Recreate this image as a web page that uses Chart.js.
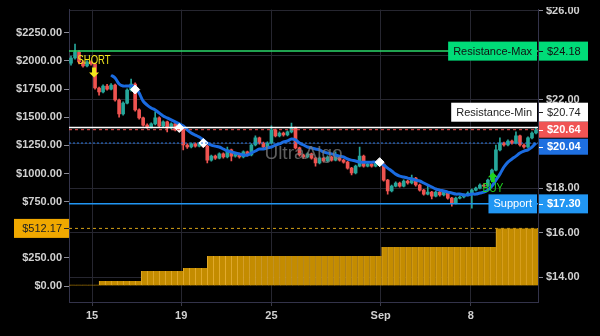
<!DOCTYPE html>
<html>
<head>
<meta charset="utf-8">
<script src="https://cdn.jsdelivr.net/npm/chart.js@4.4.1/dist/chart.umd.min.js"></script>
<style>
  html, body { margin: 0; padding: 0; background: #000; }
  #wrap { width: 600px; height: 336px; }
</style>
</head>
<body>
<div id="wrap"><canvas id="chart" width="600" height="336"></canvas></div>
<script>
/* ============================================================
   PRICE CHART - candles, trend line, levels, stepped volume
   ============================================================ */

// x axis ticks (candle index positions)
const xTickPos = [5.25, 27.5, 50, 77.25, 99.75];
const xTickLabels = ['15', '19', '25', 'Sep', '8'];
const rightTicks = [14, 16, 18, 20, 22, 24, 26];
const leftTicks = [0, 250, 500, 750, 1000, 1250, 1500, 1750, 2000, 2250];

// candles
const firstOpen = 23.64;
const closes = [
    23.87, 24.14, 23.69, 23.51, 23.69, 23.60, 22.52, 22.34, 22.61, 22.47,
    22.65, 21.98, 21.35, 21.84, 22.43, 22.70, 21.53, 21.17, 20.85, 20.76,
    20.90, 21.17, 20.81, 20.99, 20.72, 20.90, 20.63, 20.76, 19.95, 19.86,
    20.00, 19.90, 20.00, 19.90, 19.27, 19.45, 19.36, 19.55, 19.41, 19.73,
    19.45, 19.55, 19.41, 19.64, 19.50, 19.95, 20.27, 20.04, 19.86, 20.04,
    20.63, 20.36, 20.49, 20.40, 20.54, 20.72, 19.82, 19.50, 19.41, 19.55,
    19.36, 19.14, 19.36, 19.23, 19.41, 19.27, 19.45, 19.27, 19.18, 18.91,
    18.69, 19.00, 19.45, 19.00, 19.09, 19.00, 19.14, 19.09, 18.37, 17.88,
    18.10, 18.24, 18.10, 18.33, 18.24, 18.46, 18.15, 17.92, 17.74, 17.83,
    17.65, 17.83, 17.70, 17.83, 17.56, 17.34, 17.56, 17.61, 17.70, 17.79,
    17.92, 18.01, 18.15, 18.10, 18.37, 18.82, 19.73, 20.04, 19.95, 20.13,
    20.04, 20.36, 19.95, 19.86, 20.27, 20.49, 20.64
];
const highs = [
    23.96, 24.50, 24.20, 23.74, 23.75, 23.74, 23.64, 22.56, 22.66, 22.68,
    22.72, 22.70, 22.02, 21.90, 22.48, 22.92, 22.75, 21.58, 21.21, 20.90,
    20.95, 21.44, 21.22, 21.04, 21.03, 20.95, 20.94, 20.81, 20.80, 20.00,
    20.05, 20.05, 20.06, 20.04, 19.94, 19.50, 19.50, 19.60, 19.60, 19.86,
    19.77, 19.60, 19.59, 19.69, 19.68, 20.00, 20.36, 20.31, 20.08, 20.09,
    20.81, 20.67, 20.54, 20.53, 20.59, 20.94, 20.76, 19.86, 19.54, 19.60,
    19.59, 19.40, 19.41, 19.40, 19.46, 19.45, 19.64, 19.49, 19.31, 19.22,
    18.95, 19.05, 19.86, 19.50, 19.14, 19.13, 19.19, 19.18, 19.13, 18.41,
    18.15, 18.29, 18.28, 18.38, 18.37, 18.60, 18.50, 18.19, 17.96, 18.15,
    17.87, 17.88, 17.87, 17.88, 17.87, 17.60, 17.61, 17.66, 17.75, 17.84,
    17.97, 18.06, 18.20, 18.19, 18.42, 18.87, 19.95, 20.27, 20.08, 20.18,
    20.17, 20.54, 20.40, 19.99, 20.32, 20.54, 20.76
];
const lows = [
    23.55, 23.82, 23.60, 23.46, 23.47, 23.55, 22.47, 22.20, 22.30, 22.42,
    22.43, 21.93, 21.21, 21.30, 21.80, 22.38, 21.48, 21.12, 20.80, 20.70,
    20.72, 20.86, 20.76, 20.77, 20.54, 20.68, 20.58, 20.59, 19.73, 19.80,
    19.82, 19.85, 19.86, 19.85, 19.14, 19.22, 19.30, 19.32, 19.36, 19.37,
    19.23, 19.40, 19.36, 19.37, 19.45, 19.46, 19.91, 19.99, 19.80, 19.82,
    20.00, 20.31, 20.32, 20.35, 20.36, 20.50, 19.77, 19.45, 19.35, 19.37,
    19.31, 19.00, 19.10, 19.18, 19.19, 19.22, 19.23, 19.22, 19.13, 18.86,
    18.60, 18.65, 18.96, 18.95, 18.96, 18.95, 18.96, 19.04, 18.32, 17.74,
    17.84, 18.06, 18.05, 18.06, 18.19, 18.20, 18.10, 17.87, 17.69, 17.70,
    17.52, 17.61, 17.65, 17.66, 17.51, 17.20, 17.30, 17.52, 17.57, 17.66,
    17.11, 17.88, 17.97, 18.05, 18.06, 18.33, 18.78, 19.69, 19.90, 19.91,
    19.99, 20.00, 19.90, 19.81, 19.82, 20.23, 20.45
];

// trend line (starts at candle 10)
const maValues = [
    null, null, null, null, null, null, null, null, null, null,
    23.10, 22.97, 22.70, 22.61, 22.61, 22.61, 22.56, 22.29, 21.93, 21.75,
    21.62, 21.53, 21.39, 21.26, 21.17, 21.08, 20.99, 20.90, 20.81, 20.63,
    20.49, 20.40, 20.31, 20.18, 20.04, 19.95, 19.90, 19.86, 19.77, 19.68,
    19.64, 19.59, 19.55, 19.50, 19.50, 19.59, 19.68, 19.77, 19.77, 19.82,
    19.86, 19.95, 20.00, 20.09, 20.13, 20.22, 20.18, 20.04, 19.95, 19.86,
    19.82, 19.77, 19.73, 19.64, 19.59, 19.55, 19.50, 19.45, 19.41, 19.32,
    19.27, 19.23, 19.18, 19.18, 19.18, 19.18, 19.18, 19.14, 19.05, 18.91,
    18.78, 18.64, 18.55, 18.51, 18.46, 18.42, 18.37, 18.33, 18.24, 18.15,
    18.06, 17.97, 17.92, 17.88, 17.83, 17.79, 17.74, 17.74, 17.70, 17.70,
    17.74, 17.74, 17.79, 17.83, 17.92, 18.10, 18.37, 18.64, 18.96, 19.18,
    19.32, 19.45, 19.59, 19.68, 19.73, 19.86, 20.04
];

// white cross markers
const markerIdx = [16, 27, 33, 77];
const markerPrice = [22.45, 20.72, 20.04, 19.18];

// signals
const signalIdx = [5.75, 105.25];
const signalPrice = [22.99, 18.72];
const signalText = ['SHORT', 'BUY'];

// horizontal levels (right axis)
const levelNames = ['Resistance-Max', 'Resistance-Min', '', '', 'Support'];
const levelValues = [24.18, 20.74, 20.64, 20.04, 17.30];
const lastPrice = 20.64;

// stepped bars (left axis)
const stepValues = [
    12, 12, 12, 12, 12,
    45, 45, 45, 45, 45, 45, 45,
    133, 133, 133, 133, 133, 133, 133,
    160, 160, 160, 160,
    266, 266, 266, 266, 266, 266, 266, 266, 266, 266,
    266, 266, 266, 266, 266, 266, 266, 266, 266, 266,
    266, 266, 266, 266, 266, 266, 266, 266, 266,
    346, 346, 346, 346, 346, 346, 346, 346, 346, 346,
    346, 346, 346, 346, 346, 346, 346, 346, 346,
    512.17, 512.17, 512.17, 512.17, 512.17, 512.17, 512.17
];
const stepLabelValue = 512.17;

const UP = '#26a69a', DOWN = '#ef5350';
const FONT = '"Liberation Sans", Arial, sans-serif';

const opens = closes.map((c, i) => i ? closes[i - 1] : firstOpen);
const candleColors = closes.map((c, i) => c >= opens[i] ? UP : DOWN);

const levelStyles = [
    { line: '#2bd96b', dash: [], width: 1.5, bg: '#00dc78', fg: '#111' },
    { line: '#ffffff', dash: [], width: 1.5, bg: '#ffffff', fg: '#222' },
    { line: '#f05454', dash: [3, 3], width: 1, bg: '#f05454', fg: '#fff' },
    { line: '#2a7be4', dash: [2, 2], width: 1, bg: '#1e6fe0', fg: '#fff' },
    { line: '#2196f3', dash: [], width: 1.5, bg: '#2196f3', fg: '#fff' },
];

function drawArrow(ctx, x, tipY, dir, color) {
    // dir 1 = pointing down, -1 = pointing up
    ctx.fillStyle = color;
    ctx.beginPath();
    ctx.moveTo(x, tipY);
    ctx.lineTo(x - 5, tipY - dir * 5);
    ctx.lineTo(x - 2, tipY - dir * 5);
    ctx.lineTo(x - 2, tipY - dir * 10);
    ctx.lineTo(x + 2, tipY - dir * 10);
    ctx.lineTo(x + 2, tipY - dir * 5);
    ctx.lineTo(x + 5, tipY - dir * 5);
    ctx.closePath();
    ctx.fill();
}

function hLine(ctx, area, y, color, dash, width) {
    ctx.save();
    ctx.strokeStyle = color;
    ctx.lineWidth = width;
    ctx.setLineDash(dash);
    ctx.beginPath();
    ctx.moveTo(area.left, y);
    ctx.lineTo(area.right, y);
    ctx.stroke();
    ctx.restore();
}

const overlay = {
    id: 'overlay',
    beforeDatasetsDraw(chart) {
        hLine(chart.ctx, chart.chartArea, chart.scales.yl.getPixelForValue(stepLabelValue), '#d4a017', [3, 3], 1);
    },
    afterDatasetsDraw(chart) {
        const { ctx, chartArea: a, scales } = chart;
        // watermark over the candles
        ctx.save();
        ctx.font = '19px ' + FONT;
        ctx.fillStyle = 'rgba(125,125,125,0.75)';
        ctx.textAlign = 'center';
        ctx.textBaseline = 'middle';
        ctx.fillText('UltraAlgo', (a.left + a.right) / 2, (a.top + a.bottom) / 2 - 2);
        ctx.restore();
        levelValues.forEach((v, i) => {
            const s = levelStyles[i];
            hLine(ctx, a, scales.y.getPixelForValue(v), s.line, s.dash, s.width);
        });
        ctx.save();
        signalText.forEach((t, i) => {
            const x = scales.x.getPixelForValue(signalIdx[i]);
            const y = scales.y.getPixelForValue(signalPrice[i]);
            const dir = t === 'BUY' ? -1 : 1;
            const color = t === 'BUY' ? '#1fd31f' : '#f2e81c';
            drawArrow(ctx, x, y, dir, color);
            ctx.font = '13px ' + FONT;
            ctx.textAlign = 'center';
            ctx.textBaseline = 'middle';
            ctx.fillStyle = color;
            if (dir === 1) ctx.fillText(t, x, y - 17, 33);
            else ctx.fillText(t, x, y + 16, 21);
        });
        ctx.restore();
    },
    afterDraw(chart) {
        const { ctx, chartArea: a, scales } = chart;
        // label boxes, pushed apart around the last price
        const boxes = levelValues.map((v, i) => ({ y: scales.y.getPixelForValue(v), h: levelNames[i] ? 19 : 16 }));
        const anchor = levelValues.indexOf(lastPrice);
        for (let i = anchor - 1; i >= 0; i--) {
            const lim = boxes[i + 1].y - boxes[i + 1].h / 2;
            if (boxes[i].y + boxes[i].h / 2 > lim) boxes[i].y = lim - boxes[i].h / 2;
        }
        for (let i = anchor + 1; i < boxes.length; i++) {
            const lim = boxes[i - 1].y + boxes[i - 1].h / 2 + 1;
            if (boxes[i].y - boxes[i].h / 2 < lim) boxes[i].y = lim + boxes[i].h / 2;
        }
        ctx.save();
        // top of the right axis labels is clipped in the original
        ctx.fillStyle = '#000';
        ctx.fillRect(a.right + 1, 0, 600 - a.right, 7);
        ctx.textBaseline = 'middle';
        levelValues.forEach((v, i) => {
            const s = levelStyles[i], b = boxes[i];
            ctx.fillStyle = s.bg;
            ctx.fillRect(a.right + 1, b.y - b.h / 2, 49, b.h);
            ctx.fillStyle = s.fg;
            ctx.fillRect(a.right + 1, Math.round(b.y), 4, 1);
            ctx.font = (s.fg === '#fff' ? 'bold ' : '') + '11px ' + FONT;
            ctx.textAlign = 'left';
            ctx.fillText('$' + v.toFixed(2), a.right + 9, b.y + 0.5);
            if (levelNames[i]) {
                ctx.font = '11px ' + FONT;
                const w = ctx.measureText(levelNames[i]).width + 10;
                ctx.fillStyle = s.bg;
                ctx.fillRect(a.right - 1 - w, b.y - b.h / 2, w, b.h);
                ctx.fillStyle = s.fg;
                ctx.textAlign = 'center';
                ctx.fillText(levelNames[i], a.right - 1 - w / 2, b.y + 0.5);
            }
        });
        // left value box
        const oy = scales.yl.getPixelForValue(stepLabelValue);
        ctx.fillStyle = '#f0a800';
        ctx.fillRect(14, oy - 9.5, a.left - 14, 19);
        ctx.fillStyle = '#222';
        ctx.fillRect(a.left - 5, Math.round(oy), 5, 1);
        ctx.font = '11px ' + FONT;
        ctx.textAlign = 'right';
        ctx.fillText('$' + stepLabelValue.toFixed(2), a.left - 7, oy + 0.5);
        ctx.restore();
    }
};

Chart.defaults.font.family = FONT;
Chart.defaults.font.size = 11;
Chart.defaults.color = '#d8d8d8';

const tickFont = { family: FONT, size: 11, weight: 'bold' };

new Chart(document.getElementById('chart'), {
    type: 'bar',
    data: {
        datasets: [
            {
                type: 'bar', label: 'Volume',
                data: stepValues.map((v, i) => ({ x: i, y: v })),
                xAxisID: 'xv', yAxisID: 'yl',
                backgroundColor: '#c48c00', borderColor: '#e2aa2e',
                borderWidth: { left: 1, right: 0, top: 0, bottom: 0 }, borderSkipped: false,
                barPercentage: 1, categoryPercentage: 1, grouped: false, order: 10
            },
            {
                type: 'bar', label: 'Wick',
                data: closes.map((c, i) => ({ x: i, y: [lows[i], highs[i]] })),
                xAxisID: 'x', yAxisID: 'y',
                backgroundColor: candleColors, barThickness: 1, grouped: false, order: 5
            },
            {
                type: 'bar', label: 'Body',
                data: closes.map((c, i) => ({ x: i, y: [opens[i], c] })),
                xAxisID: 'x', yAxisID: 'y',
                backgroundColor: candleColors, barThickness: 3, grouped: false, order: 4
            },
            {
                type: 'line', label: 'Trend',
                data: maValues.map((v, i) => ({ x: i, y: v })),
                xAxisID: 'x', yAxisID: 'y',
                borderColor: '#1a6be0', borderWidth: 3, pointRadius: 0, tension: 0.4, order: 2
            },
            {
                type: 'scatter', label: 'Marks',
                data: markerIdx.map((v, i) => ({ x: v, y: markerPrice[i] })),
                xAxisID: 'x', yAxisID: 'y',
                pointStyle: 'rectRot', pointRadius: 4.5, backgroundColor: '#fff', borderColor: '#fff', order: 1
            }
        ]
    },
    options: {
        responsive: false, animation: false, events: [],
        layout: { padding: { top: 9 } },
        plugins: { legend: { display: false }, tooltip: { enabled: false } },
        scales: {
            x: {
                type: 'linear', min: -0.5, max: 116.5, offset: false,
                afterBuildTicks: s => { s.ticks = xTickPos.map(v => ({ value: v })); },
                ticks: { color: '#d0d0d0', font: tickFont, padding: 3, autoSkip: false, maxRotation: 0, callback: (v, i) => xTickLabels[i] },
                grid: { color: '#262630', tickColor: '#3a3a48', tickLength: 4, offset: false },
                border: { color: '#33334a' },
                afterFit: s => { s.height = 34; }
            },
            xv: { type: 'linear', display: false, min: -0.5, max: 77.5, offset: false, grid: { offset: false } },
            y: {
                type: 'linear', position: 'right', min: 12.88, max: 26.05,
                afterBuildTicks: s => { s.ticks = rightTicks.map(v => ({ value: v })); },
                ticks: { color: '#d0d0d0', font: tickFont, padding: 3, callback: v => '$' + v.toFixed(2) },
                grid: { color: '#262630', tickColor: '#8a8a95', tickLength: 5 },
                border: { color: '#33334a' },
                afterFit: s => { s.width = 62; }
            },
            yl: {
                type: 'linear', position: 'left', min: -141.9, max: 2456.6,
                afterBuildTicks: s => { s.ticks = leftTicks.map(v => ({ value: v })); },
                ticks: { color: '#d0d0d0', font: tickFont, padding: 2, callback: v => '$' + v.toFixed(2) },
                grid: { drawOnChartArea: false, tickColor: '#8a8a95', tickLength: 5 },
                border: { color: '#33334a' },
                afterFit: s => { s.width = 69; }
            }
        }
    },
    plugins: [overlay]
});
</script>
</body>
</html>
